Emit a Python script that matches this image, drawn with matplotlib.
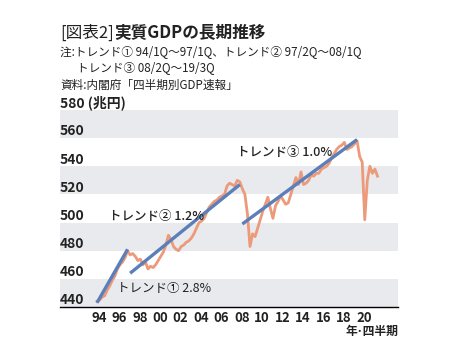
import matplotlib
matplotlib.use('Agg')
import matplotlib.pyplot as plt
import matplotlib.transforms as mtransforms

plt.rcParams['font.family'] = ['Noto Sans CJK JP', 'DejaVu Sans']

# real GDP, quarterly, 1994Q1 - 2021Q3 (trillion yen)
gdp = [
    444, 445, 447, 448,   # 1994
    452, 455, 459, 462,   # 1995
    467, 470, 472, 475,   # 1996
    480, 477, 478, 476,   # 1997
    473, 474, 470, 472,   # 1998
    467, 469, 468, 470,   # 1999
    473, 476, 479, 484,   # 2000
    491, 488, 483, 481,   # 2001
    480, 483, 484, 486,   # 2002
    487, 489, 492, 496,   # 2003
    500, 501, 503, 507,   # 2004
    511, 513, 515, 516,   # 2005
    518, 519, 520, 526,   # 2006
    528, 527, 526, 530,   # 2007
    529, 524, 520, 506,   # 2008
    483, 492, 490, 496,   # 2009
    502, 508, 513, 518,   # 2010
    510, 503, 512, 515,   # 2011
    519, 516, 513, 514,   # 2012
    520, 526, 532, 527,   # 2013
    536, 527, 528, 530,   # 2014
    534, 533, 535, 535,   # 2015
    538, 539, 540, 542,   # 2016
    546, 549, 552, 554,   # 2017
    555, 557, 552, 553,   # 2018
    554, 556, 558, 547,   # 2019
    543, 502, 530, 540,   # 2020
    535, 538, 533,        # 2021
]
start_year = 1994

trend_names = ['トレンド①', 'トレンド②', 'トレンド③']
trend_rates = ['2.8%', '1.2%', '1.0%']
trend_start = [1994.0, 1997.25, 2008.25]
trend_end = [1997.0, 2008.0, 2019.5]
trend_start_val = [443, 464, 499]
trend_end_val = [481, 527, 559]

tick_years = list(range(1994, 2021, 2))
tick_labels = ['94', '96', '98', '00', '02', '04', '06', '08', '10', '12', '14', '16', '18', '20']
y_values = [440, 460, 480, 500, 520, 540, 560, 580]

orange = '#EC9A7A'
blue = '#5B7FB9'
band = '#E8EAED'

W, H = 457, 361
fig = plt.figure(figsize=(W / 100, H / 100), dpi=100)
fig.patch.set_facecolor('white')
ax = fig.add_axes([60 / W, 1 - 307 / H, 338 / W, 197 / H])

x = [start_year + i / 4 for i in range(len(gdp))]
x0 = start_year - 37 / 10.2
x1 = start_year + 301 / 10.2
ax.set_xlim(x0, x1)
ax.set_ylim(440, 580)

# alternating bands
for lo in y_values[:-1][::2]:
    ax.axhspan(lo, lo + 20, color=band, lw=0, zorder=0)

ax.plot(x, gdp, color=orange, lw=2.0, zorder=2, solid_joinstyle='round')
for s, e, sv, ev in zip(trend_start, trend_end, trend_start_val, trend_end_val):
    ax.plot([s, e], [sv, ev], color=blue, lw=2.4, zorder=3, solid_capstyle='butt')

# cleanup axes
for side in ['top', 'right', 'left']:
    ax.spines[side].set_visible(False)
ax.spines['bottom'].set_linewidth(1.0)
ax.spines['bottom'].set_color('black')
ax.set_yticks([])
ax.set_xticks([t + 0.2 for t in tick_years])
ax.set_xticklabels(tick_labels, fontsize=9.5, fontweight='bold', color='#222222')
ax.tick_params(axis='x', length=0, pad=3)

# y labels sitting on the band edges
lab_tr = mtransforms.offset_copy(
    mtransforms.blended_transform_factory(ax.transAxes, ax.transData),
    fig=fig, x=0, y=2, units='points')
for v in y_values:
    s = f'{v}' if v != 580 else '580 (兆円)'
    ax.text(0, v, s, transform=lab_tr, ha='left', va='baseline',
            fontsize=10, fontweight='bold', color='#222222', zorder=4)

# trend labels
label_pos = [(1996.0, 453), (1995.2, 504), (2007.7, 550)]
weights = ['normal', 'medium', 'medium']
for (tx, ty), name, rate, wt in zip(label_pos, trend_names, trend_rates, weights):
    ax.text(tx, ty, f'{name} {rate}', ha='left', va='center', fontsize=9,
            fontweight=wt, color='#222222', zorder=5)

fig.text(398 / W, 1 - 331 / H, '年･四半期', ha='right', va='center',
         fontsize=8.5, fontweight='bold', color='#222222')

# title and notes
t1 = fig.text(60 / W, 1 - 33 / H, '[図表2]', ha='left', va='center',
              fontsize=12, color='#222222')
fig.canvas.draw()
bb = t1.get_window_extent()
fig.text(bb.x1 / W + 1 / W, 1 - 33 / H, '実質GDPの長期推移', ha='left', va='center',
         fontsize=12, fontweight='bold', color='#222222')

notes = [
    (60, 52, '注:トレンド① 94/1Q〜97/1Q、トレンド② 97/2Q〜08/1Q'),
    (77, 68, 'トレンド③ 08/2Q〜19/3Q'),
    (60, 85, '資料:内閣府「四半期別GDP速報」'),
]
for nx, ny, s in notes:
    fig.text(nx / W, 1 - ny / H, s, ha='left', va='center', fontsize=8.4,
             color='#222222')

fig.savefig('out.png', dpi=100)
